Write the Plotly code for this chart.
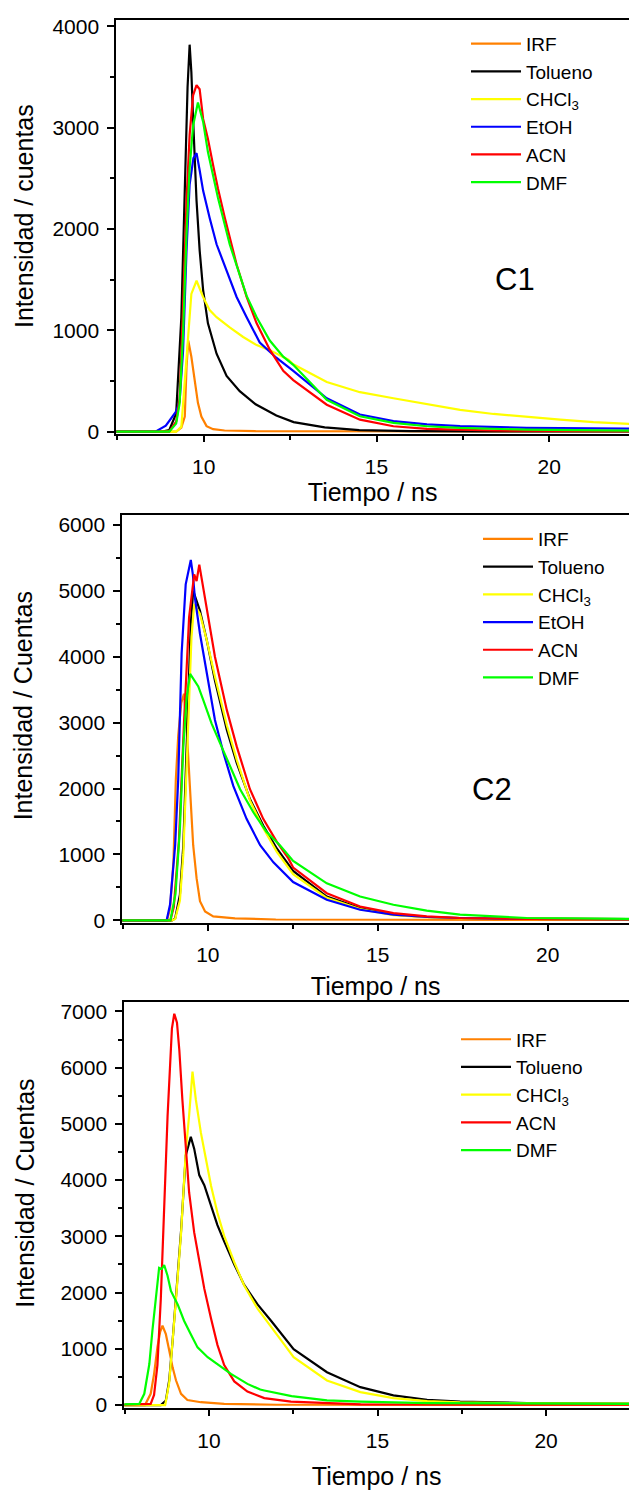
import plotly.graph_objects as go

# ---------------- DATA ----------------
# Panel C1
P1_IRF_T = [7.0, 9.2, 9.35, 9.45, 9.5, 9.55, 9.64, 9.74, 9.83, 9.93, 10.08, 10.27, 10.6, 11.5, 23.0]
P1_IRF_Y = [0, 0, 40, 150, 640, 900, 740, 480, 285, 150, 55, 25, 12, 5, 3]

P1_TOL_T = [7.0, 8.8, 9.0, 9.2, 9.35, 9.45, 9.53, 9.59, 9.64, 9.69, 9.79, 9.88, 9.98, 10.12, 10.37,
            10.66, 11.04, 11.5, 12.1, 12.6, 13.5, 14.5, 16.0, 18.0, 23.0]
P1_TOL_Y = [0, 0, 15, 180, 1130, 2430, 3400, 3820, 3550, 3090, 2280, 1790, 1400, 1070, 770,
            550, 400, 270, 160, 95, 42, 15, 6, 3, 2]

P1_CHC_T = [7.0, 9.2, 9.35, 9.45, 9.55, 9.64, 9.79, 9.98, 10.17, 10.37, 10.75, 11.14, 11.53, 11.91,
            12.45, 12.59, 13.56, 14.52, 15.49, 16.46, 17.42, 18.39, 19.35, 20.32, 21.28, 22.25, 23.0]
P1_CHC_Y = [0, 0, 50, 480, 970, 1360, 1490, 1330, 1200, 1130, 1030, 935, 855, 805,
            710, 665, 490, 390, 330, 275, 215, 175, 145, 120, 95, 75, 65]

P1_ETOH_T = [7.0, 8.6, 8.9, 9.1, 9.2, 9.3, 9.4, 9.5, 9.59, 9.7, 9.79, 9.88, 9.98, 10.17, 10.37,
             10.66, 10.95, 11.24, 11.62, 12.1, 12.59, 13.56, 14.52, 15.49, 16.46, 17.42, 19.35, 22.25, 23.0]
P1_ETOH_Y = [0, 0, 60, 150, 200, 300, 800, 1790, 2440, 2700, 2750, 2580, 2380, 2110, 1850,
             1590, 1330, 1130, 880, 730, 600, 330, 170, 105, 72, 55, 38, 30, 30]

P1_ACN_T = [7.0, 9.0, 9.2, 9.3, 9.4, 9.5, 9.59, 9.69, 9.79, 9.88, 9.98, 10.12, 10.27, 10.41, 10.61,
            10.75, 10.95, 11.24, 11.53, 11.91, 12.3, 12.59, 13.56, 14.52, 15.49, 16.46, 18.39, 23.0]
P1_ACN_Y = [0, 0, 100, 320, 1230, 2280, 2930, 3320, 3420, 3380, 3090, 2890, 2630, 2400, 2110,
            1920, 1650, 1330, 1070, 810, 600, 510, 266, 119, 54, 28, 12, 5]

P1_DMF_T = [7.0, 9.0, 9.2, 9.3, 9.4, 9.5, 9.59, 9.69, 9.83, 9.98, 10.12, 10.41, 10.75, 11.24, 11.53,
            11.91, 12.3, 12.59, 13.56, 14.52, 15.49, 16.46, 17.42, 19.35, 22.25, 23.0]
P1_DMF_Y = [0, 0, 80, 280, 970, 1950, 2600, 3020, 3250, 3060, 2760, 2310, 1850, 1340, 1130,
            900, 740, 660, 315, 152, 87, 54, 37, 20, 10, 10]

# Panel C2
P2_IRF_T = [7.0, 8.8, 8.89, 8.99, 9.06, 9.13, 9.22, 9.3, 9.38, 9.48, 9.57, 9.67, 9.77, 9.92, 10.16, 10.8, 12.0, 23.0]
P2_IRF_Y = [0, 0, 180, 890, 2140, 2800, 3300, 3440, 2890, 1890, 1140, 640, 290, 135, 60, 30, 12, 5]

P2_TOL_T = [7.0, 8.95, 9.04, 9.18, 9.28, 9.38, 9.43, 9.5, 9.57, 9.77, 9.97, 10.21, 10.56, 10.85, 11.24,
            11.63, 12.03, 12.37, 12.51, 13.5, 14.48, 15.46, 16.44, 17.42, 19.38, 23.0]
P2_TOL_Y = [0, 0, 30, 390, 1140, 2650, 3440, 4500, 5000, 4700, 4250, 3640, 2890, 2390, 1840,
            1440, 1090, 840, 750, 361, 185, 85, 50, 35, 25, 15]

P2_CHC_T = [7.0, 8.95, 9.04, 9.18, 9.28, 9.38, 9.45, 9.52, 9.6, 9.77, 9.97, 10.21, 10.56, 10.85, 11.24,
            11.63, 12.03, 12.51, 13.5, 14.48, 15.46, 16.44, 17.42, 19.38, 23.0]
P2_CHC_Y = [0, 0, 20, 300, 1000, 2400, 3400, 4300, 4800, 4650, 4250, 3700, 2960, 2440, 1820,
            1400, 1040, 700, 340, 170, 80, 48, 32, 22, 15]

P2_ETOH_T = [7.0, 8.79, 8.89, 9.04, 9.13, 9.23, 9.35, 9.42, 9.5, 9.56, 9.62, 9.77, 9.97, 10.21, 10.46,
             10.75, 11.14, 11.54, 11.93, 12.51, 13.5, 14.48, 15.46, 16.44, 17.42, 19.38, 23.0]
P2_ETOH_Y = [0, 0, 240, 1140, 2140, 4050, 5100, 5300, 5470, 5250, 4900, 4350, 3740, 3040, 2540,
             2040, 1540, 1140, 880, 580, 311, 160, 85, 50, 35, 20, 15]

P2_ACN_T = [7.0, 8.9, 9.0, 9.15, 9.3, 9.45, 9.6, 9.67, 9.75, 9.85, 9.97, 10.21, 10.56, 10.85, 11.24,
            11.63, 12.03, 12.37, 12.51, 13.5, 14.48, 15.46, 16.44, 17.42, 19.38, 23.0]
P2_ACN_Y = [0, 0, 200, 1200, 3000, 4600, 5250, 5150, 5400, 5100, 4700, 4000, 3190, 2640, 1990,
            1540, 1190, 940, 800, 411, 210, 110, 60, 35, 20, 15]

P2_DMF_T = [7.0, 8.9, 9.05, 9.18, 9.28, 9.38, 9.48, 9.6, 9.72, 9.87, 9.97, 10.11, 10.36, 10.65, 10.95,
            11.34, 11.73, 12.12, 12.51, 13.5, 14.48, 15.46, 16.44, 17.42, 19.38, 23.0]
P2_DMF_Y = [0, 0, 400, 1390, 2640, 3400, 3740, 3650, 3550, 3340, 3190, 2990, 2690, 2340, 1990,
            1640, 1340, 1140, 900, 561, 361, 236, 146, 85, 35, 20]

# Panel 3
P3_IRF_T = [7.0, 8.1, 8.27, 8.37, 8.47, 8.55, 8.62, 8.72, 8.82, 8.92, 9.02, 9.17, 9.36, 9.76, 10.45, 12.0, 23.0]
P3_IRF_Y = [0, 0, 200, 550, 1030, 1300, 1410, 1260, 970, 670, 440, 200, 90, 50, 20, 5, 3]

P3_TOL_T = [7.0, 8.57, 8.72, 8.82, 8.92, 9.02, 9.17, 9.31, 9.46, 9.56, 9.71, 9.86, 10.06, 10.25, 10.45,
            10.75, 11.04, 11.44, 11.84, 12.23, 12.51, 13.5, 14.49, 15.47, 16.47, 17.45, 18.44, 19.43, 22.4, 23.0]
P3_TOL_Y = [0, 0, 80, 440, 1140, 1910, 3090, 4440, 4770, 4560, 4090, 3910, 3560, 3200, 2910,
            2500, 2140, 1790, 1500, 1200, 995, 583, 318, 171, 94, 59, 47, 35, 24, 24]

P3_CHC_T = [7.0, 8.7, 8.82, 8.92, 9.02, 9.17, 9.31, 9.41, 9.51, 9.61, 9.76, 9.91, 10.06, 10.25, 10.45,
            10.75, 11.04, 11.44, 11.84, 12.23, 12.51, 13.5, 14.49, 15.47, 16.47, 17.45, 19.43, 23.0]
P3_CHC_Y = [0, 0, 400, 1100, 1880, 3050, 4500, 5150, 5930, 5430, 4840, 4370, 3900, 3420, 3010,
            2540, 2130, 1715, 1400, 1080, 850, 436, 230, 124, 71, 47, 28, 25]

P3_ACN_T = [7.0, 8.27, 8.37, 8.47, 8.57, 8.67, 8.77, 8.9, 8.97, 9.05, 9.12, 9.21, 9.31, 9.41, 9.56,
            9.71, 9.86, 10.06, 10.25, 10.45, 10.75, 11.14, 11.52, 11.64, 12.43, 13.5, 14.5, 23.0]
P3_ACN_Y = [0, 20, 180, 710, 1890, 3360, 5130, 6700, 6960, 6800, 6310, 5430, 4540, 3780, 3070,
            2540, 2070, 1540, 1070, 710, 420, 240, 150, 124, 60, 30, 10, 5]

P3_DMF_T = [7.0, 7.93, 8.08, 8.23, 8.32, 8.42, 8.52, 8.6, 8.67, 8.77, 8.87, 9.07, 9.26, 9.46, 9.66,
            9.96, 10.25, 10.65, 11.14, 11.52, 11.64, 12.45, 13.5, 14.49, 16.47, 22.4, 23.0]
P3_DMF_Y = [0, 20, 200, 730, 1320, 1910, 2440, 2420, 2490, 2300, 2030, 1790, 1500, 1260, 1025,
            850, 730, 553, 376, 275, 259, 160, 82, 59, 35, 20, 20]

COLORS = {"IRF": "#FF8000", "Tolueno": "#000000", "CHCl<sub>3</sub>": "#FFFF00",
          "EtOH": "#0000FF", "ACN": "#FF0000", "DMF": "#00FF00"}

X_TITLE = "Tiempo / ns"
Y_TITLES = ["Intensidad / cuentas", "Intensidad / Cuentas", "Intensidad / Cuentas"]
PANEL_LABELS = [("C1", 19.0, 1500), ("C2", 18.35, 1980)]

panels = [
    [("IRF", P1_IRF_T, P1_IRF_Y), ("Tolueno", P1_TOL_T, P1_TOL_Y), ("CHCl<sub>3</sub>", P1_CHC_T, P1_CHC_Y),
     ("EtOH", P1_ETOH_T, P1_ETOH_Y), ("ACN", P1_ACN_T, P1_ACN_Y), ("DMF", P1_DMF_T, P1_DMF_Y)],
    [("IRF", P2_IRF_T, P2_IRF_Y), ("Tolueno", P2_TOL_T, P2_TOL_Y), ("CHCl<sub>3</sub>", P2_CHC_T, P2_CHC_Y),
     ("EtOH", P2_ETOH_T, P2_ETOH_Y), ("ACN", P2_ACN_T, P2_ACN_Y), ("DMF", P2_DMF_T, P2_DMF_Y)],
    [("IRF", P3_IRF_T, P3_IRF_Y), ("Tolueno", P3_TOL_T, P3_TOL_Y), ("CHCl<sub>3</sub>", P3_CHC_T, P3_CHC_Y),
     ("ACN", P3_ACN_T, P3_ACN_Y), ("DMF", P3_DMF_T, P3_DMF_Y)],
]

# ---------------- LAYOUT GEOMETRY ----------------
W, H = 629, 1492
FONT = "Arial, Liberation Sans, sans-serif"

# pixel boxes: (left, top, bottom)
boxes = [(116.3, 15, 433.5), (122.3, 515, 926.5), (124.3, 1006, 1416.7)]
xranges = [[7.467, 22.31], [7.485, 22.39], [7.487, 22.46]]
yranges = [[-27, 4065], [-38, 6150], [-60, 7176]]
legend_pos = [(466, 20), (478, 520), (456, 1025)]
xtitle_standoff = [6, 12, 17]
ytitle_pos = [(24, 213), (23, 708), (25, 1200)]

fig = go.Figure()
legend_ids = ["legend", "legend2", "legend3"]

for i, series in enumerate(panels):
    xa = "x" if i == 0 else f"x{i+1}"
    ya = "y" if i == 0 else f"y{i+1}"
    for rank, (name, t, y) in enumerate(series):
        fig.add_trace(go.Scatter(
            x=t, y=y, mode="lines", name=name,
            line=dict(color=COLORS[name], width=2.2),
            xaxis=xa, yaxis=ya, legend=legend_ids[i], legendrank=rank + 1,
        ))

layout = dict(
    width=W, height=H,
    margin=dict(l=0, r=0, t=0, b=0),
    paper_bgcolor="white", plot_bgcolor="white",
    font=dict(family=FONT, color="black"),
    showlegend=True,
)

for i in range(3):
    left, top, bottom = boxes[i]
    xkey = "xaxis" if i == 0 else f"xaxis{i+1}"
    ykey = "yaxis" if i == 0 else f"yaxis{i+1}"
    ya = "y" if i == 0 else f"y{i+1}"
    xa = "x" if i == 0 else f"x{i+1}"
    layout[xkey] = dict(
        domain=[left / W, 1.0], anchor=ya, range=xranges[i],
        showgrid=False, zeroline=False, showline=True, linecolor="black", linewidth=2, mirror=True,
        ticks="outside", ticklen=6, tickwidth=1.5, tickcolor="black",
        tick0=0, dtick=5, ticklabelstandoff=6,
        minor=dict(ticks="outside", ticklen=4, tickwidth=1.5, tickcolor="black", dtick=2.5, showgrid=False),
        tickfont=dict(family=FONT, size=21, color="black"),
        title=dict(text=X_TITLE, font=dict(family=FONT, size=25, color="black"), standoff=xtitle_standoff[i]),
    )
    layout[ykey] = dict(
        domain=[1 - bottom / H, 1 - top / H], anchor=xa, range=yranges[i],
        showgrid=False, zeroline=False, showline=True, linecolor="black", linewidth=2, mirror=False,
        ticks="outside", ticklen=7, tickwidth=1.5, tickcolor="black",
        tick0=0, dtick=1000, ticklabelstandoff=4,
        minor=dict(ticks="outside", ticklen=4, tickwidth=1.5, tickcolor="black", dtick=500, showgrid=False),
        tickfont=dict(family=FONT, size=21, color="black"),
    )
    lx, ly = legend_pos[i]
    layout[legend_ids[i]] = dict(
        x=lx / W, y=1 - ly / H, xanchor="left", yanchor="top",
        bgcolor="rgba(0,0,0,0)", borderwidth=0,
        font=dict(family=FONT, size=19, color="black"),
        itemwidth=50, tracegroupgap=0,
    )

fig.update_layout(**layout)

# y-axis titles (rotated), placed like the reference
for i, (tx, ty) in enumerate(ytitle_pos):
    fig.add_annotation(text=Y_TITLES[i], x=tx / W, y=1 - ty / H, xref="paper", yref="paper",
                       xanchor="center", yanchor="middle", textangle=-90, showarrow=False,
                       font=dict(family=FONT, size=25, color="black"))

for k, (txt, tx, ty) in enumerate(PANEL_LABELS):
    fig.add_annotation(text=txt, x=tx, y=ty, xref="x" if k == 0 else "x2", yref="y" if k == 0 else "y2",
                       showarrow=False, font=dict(family=FONT, size=31, color="black"))

fig.write_html("out.html", config={"displayModeBar": False},
               post_script="document.body.style.margin='0';document.body.style.padding='0';")
